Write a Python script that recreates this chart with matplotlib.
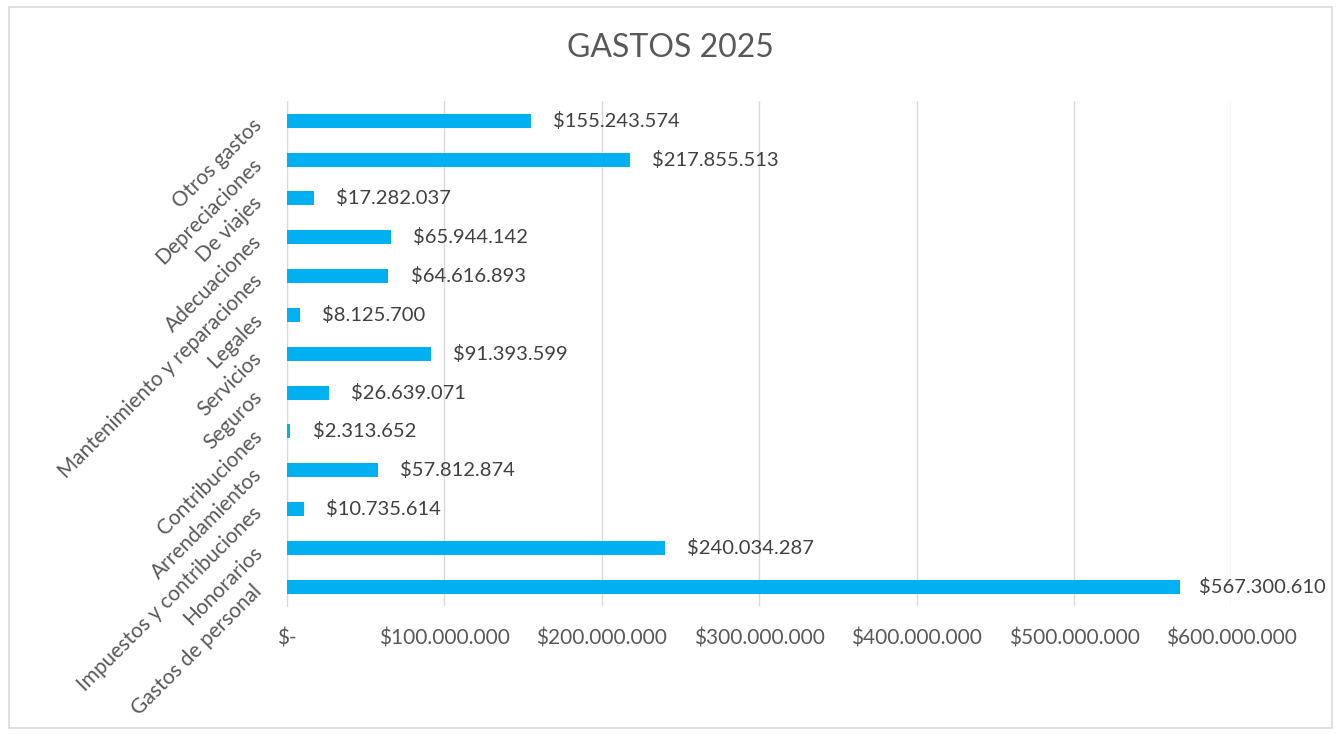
import matplotlib
matplotlib.use("Agg")
import matplotlib.pyplot as plt
from matplotlib.patches import Rectangle

# categories from bottom to top, as drawn
categorias = [
    "Gastos de personal",
    "Honorarios",
    "Impuestos y contribuciones",
    "Arrendamientos",
    "Contribuciones",
    "Seguros",
    "Servicios",
    "Legales",
    "Mantenimiento y reparaciones",
    "Adecuaciones",
    "De viajes",
    "Depreciaciones",
    "Otros gastos",
]
valores = [
    567300610,
    240034287,
    10735614,
    57812874,
    2313652,
    26639071,
    91393599,
    8125700,
    64616893,
    65944142,
    17282037,
    217855513,
    155243574,
]
ticks_x = [0, 100000000, 200000000, 300000000, 400000000, 500000000, 600000000]

plt.rcParams['font.family'] = ['Lato', 'DejaVu Sans']
gris = "#595959"


def pesos(v):
    if v == 0:
        return "$-"
    return "$" + f"{v:,.0f}".replace(",", ".")


fig = plt.figure(figsize=(13.4, 7.34), dpi=100)
fig.patches.append(Rectangle((0.007, 0.008), 0.987, 0.982, transform=fig.transFigure,
                             fill=False, edgecolor="#d9d9d9", linewidth=1.2))
ax = fig.add_axes([0.214, 0.174, 0.705, 0.688])

pos = list(range(len(categorias)))
ax.barh(pos, valores, height=0.36, color="#00b0f0", zorder=3)

etiquetas = []
for y, v in zip(pos, valores):
    t = ax.annotate(pesos(v), (v, y), xytext=(16, 0), textcoords="offset points",
                    va="center", ha="left", fontsize=14.5, color="#404040",
                    annotation_clip=False)
    etiquetas.append(t)

ax.set_xlim(0, 600000000)
ax.set_ylim(-0.5, len(categorias) - 0.5)
ax.set_xticks(ticks_x)
ax.set_xticklabels([pesos(t) for t in ticks_x], fontsize=15, color=gris)
ax.set_yticks(pos)
ax.set_yticklabels(categorias, fontsize=15, color=gris, rotation=45,
                   ha="right", rotation_mode="anchor")
ax.tick_params(axis="both", length=0)
ax.tick_params(axis="x", pad=16)
ax.tick_params(axis="y", pad=21)

ax.grid(axis="x", color="#d9d9d9", linewidth=1, zorder=0)
for s in ["top", "right", "bottom"]:
    ax.spines[s].set_visible(False)
ax.spines["left"].set_color("#d9d9d9")

fig.text(0.5, 0.935, "GASTOS 2025", ha="center", va="center", fontsize=23, color=gris)

# like Excel, pull labels back inside the chart area if they run past the edge
fig.canvas.draw()
r = fig.canvas.get_renderer()
limite = 1326
for t in etiquetas:
    bb = t.get_window_extent(r)
    if bb.x1 > limite:
        dx, dy = t.xyann
        t.xyann = (dx - (bb.x1 - limite) * 72 / fig.dpi, dy)

fig.savefig("out.png", dpi=100)
